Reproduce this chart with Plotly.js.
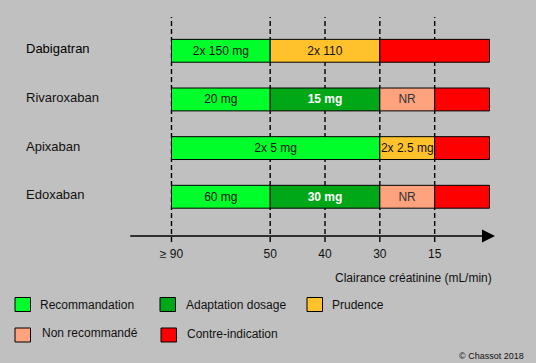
<!DOCTYPE html>
<html>
<head>
<meta charset="utf-8">
<script src="https://cdn.plot.ly/plotly-3.0.1.min.js"></script>
<style>html,body{margin:0;padding:0;background:#c0c0c0;}#chart{width:536px;height:363px;}</style>
</head>
<body>
<div id="chart"></div>
<script>
// ---- data ----
const drugs = ['Dabigatran', 'Rivaroxaban', 'Apixaban', 'Edoxaban'];
const clearanceTicks = [90, 50, 40, 30, 15];
const clearanceTickText = ['≥ 90', '50', '40', '30', '15'];
const clearanceStops = [90, 50, 40, 30, 15, 0];      // 0 = end of scale (< 15)
const categories = ['Recommandation', 'Adaptation dosage', 'Prudence', 'Non recommandé', 'Contre-indication'];
const categoryColors = ['#00ff2a', '#00a818', '#ffc22a', '#ffa37f', '#ff0000'];
const categoryTextColors = ['#111111', '#ffffff', '#111111', '#333333', '#111111'];

const segDrug  = ['Dabigatran','Dabigatran','Dabigatran',
                  'Rivaroxaban','Rivaroxaban','Rivaroxaban','Rivaroxaban',
                  'Apixaban','Apixaban','Apixaban',
                  'Edoxaban','Edoxaban','Edoxaban','Edoxaban'];
const segFrom  = [90, 50, 30,  90, 50, 30, 15,  90, 30, 15,  90, 50, 30, 15];
const segTo    = [50, 30, 0,   50, 30, 15, 0,   30, 15, 0,   50, 30, 15, 0];
const segCat   = [0, 2, 4,  0, 1, 3, 4,  0, 2, 4,  0, 1, 3, 4];
const segLabel = ['2x 150 mg', '2x 110', '',  '20 mg', '15 mg', 'NR', '',
                  '2x 5 mg', '2x 2.5 mg', '',  '60 mg', '30 mg', 'NR', ''];

const axisTitle = 'Clairance créatinine (mL/min)';
const copyright = '© Chassot 2018';

// ---- scale: schematic clearance axis (equal slots except the first) ----
const W = 536, H = 363;
const stopPos = [0, 1.8, 2.8, 3.8, 4.8, 5.8];
function pos(v) { return stopPos[clearanceStops.indexOf(v)]; }
const pxPerUnit = 318 / 5.8, x0px = 171.5;
const xRange = [-x0px / pxPerUnit, (W - x0px) / pxPerUnit];
const plotBottomPx = 236, rowPx = 48.65, firstRowPx = 50.8;
const yRange = [(plotBottomPx - firstRowPx) / rowPx, -firstRowPx / rowPx];
const px = v => v / W, py = v => 1 - v / H;

// ---- traces: one per category ----
const font = 'Liberation Sans, Arial, sans-serif';
const traces = categories.map((cat, ci) => {
  const idx = segCat.map((c, i) => c === ci ? i : -1).filter(i => i >= 0);
  return {
    type: 'bar', orientation: 'h', name: cat,
    y: idx.map(i => segDrug[i]),
    base: idx.map(i => pos(segFrom[i])),
    x: idx.map(i => pos(segTo[i]) - pos(segFrom[i])),
    text: idx.map(i => segLabel[i]),
    textposition: 'inside', insidetextanchor: 'middle', constraintext: 'none',
    textfont: {family: font, size: 12, color: categoryTextColors[ci], weight: ci === 1 ? 'bold' : 'normal'},
    marker: {color: categoryColors[ci], line: {color: '#000', width: 1}},
    width: 0.47, hoverinfo: 'skip', showlegend: false
  };
});

// ---- shapes & annotations ----
const shapes = clearanceTicks.map(t => ({
  type: 'line', xref: 'x', yref: 'paper', x0: pos(t), x1: pos(t),
  y0: py(242), y1: py(17), layer: 'below',
  line: {color: '#000', width: 1.4, dash: '5px,3px'}
}));
const annotations = [];
drugs.forEach((d, i) => annotations.push({
  xref: 'paper', yref: 'y', x: px(24), y: d, xanchor: 'left', yanchor: 'middle', yshift: 2,
  text: d, showarrow: false,
  font: {family: font, size: 13, color: i === 0 ? '#000' : '#111'}
}));
// axis arrow
annotations.push({
  xref: 'x', yref: 'paper', x: pos(0) + 0.1, y: py(plotBottomPx),
  axref: 'x', ayref: 'pixel', ax: pos(90) - 0.78, ay: 0,
  text: '', showarrow: true, arrowhead: 2, arrowsize: 2, arrowwidth: 1.3, arrowcolor: '#000'
});
annotations.push({
  xref: 'paper', yref: 'paper', x: px(494), y: py(278), xanchor: 'right', yanchor: 'middle',
  text: axisTitle, showarrow: false, font: {family: font, size: 12, color: '#111'}
});
annotations.push({
  xref: 'paper', yref: 'paper', x: px(525.5), y: py(356), xanchor: 'right', yanchor: 'middle',
  text: copyright, showarrow: false, font: {family: font, size: 9, color: '#111'}
});
// legend (schematic)
const legSq = [[15, 304.5], [160, 304.5], [307, 304.5], [15, 335], [161, 335]];
const legTx = [[37.6, 305], [183.6, 305], [330, 305], [40, 332.5], [185, 333.5]];
categories.forEach((c, i) => {
  shapes.push({
    type: 'rect', xref: 'paper', yref: 'paper',
    x0: px(legSq[i][0]), x1: px(legSq[i][0] + 15.5), y0: py(legSq[i][1] - 7), y1: py(legSq[i][1] + 7),
    fillcolor: categoryColors[i], line: {color: '#000', width: 1}
  });
  annotations.push({
    xref: 'paper', yref: 'paper', x: px(legTx[i][0]), y: py(legTx[i][1]), xanchor: 'left', yanchor: 'middle',
    text: c, showarrow: false, font: {family: font, size: 12, color: '#111'}
  });
});

const layout = {
  width: W, height: H, margin: {l: 0, r: 0, t: 0, b: 0, pad: 0},
  paper_bgcolor: '#c0c0c0', plot_bgcolor: '#c0c0c0',
  barmode: 'overlay', showlegend: false, hovermode: false,
  xaxis: {
    range: xRange, showgrid: false, zeroline: false, showline: false,
    tickmode: 'array', tickvals: clearanceTicks.map(pos), ticktext: clearanceTickText,
    ticks: 'outside', ticklen: 7, tickcolor: 'rgba(0,0,0,0)',
    tickfont: {family: font, size: 12, color: '#111'}, fixedrange: true
  },
  yaxis: {
    domain: [py(plotBottomPx), 1], range: yRange, type: 'category',
    categoryorder: 'array', categoryarray: drugs,
    showgrid: false, zeroline: false, showline: false, showticklabels: false, ticks: '', fixedrange: true
  },
  shapes: shapes, annotations: annotations
};

Plotly.newPlot('chart', traces, layout, {staticPlot: true, displayModeBar: false});
</script>
</body>
</html>
